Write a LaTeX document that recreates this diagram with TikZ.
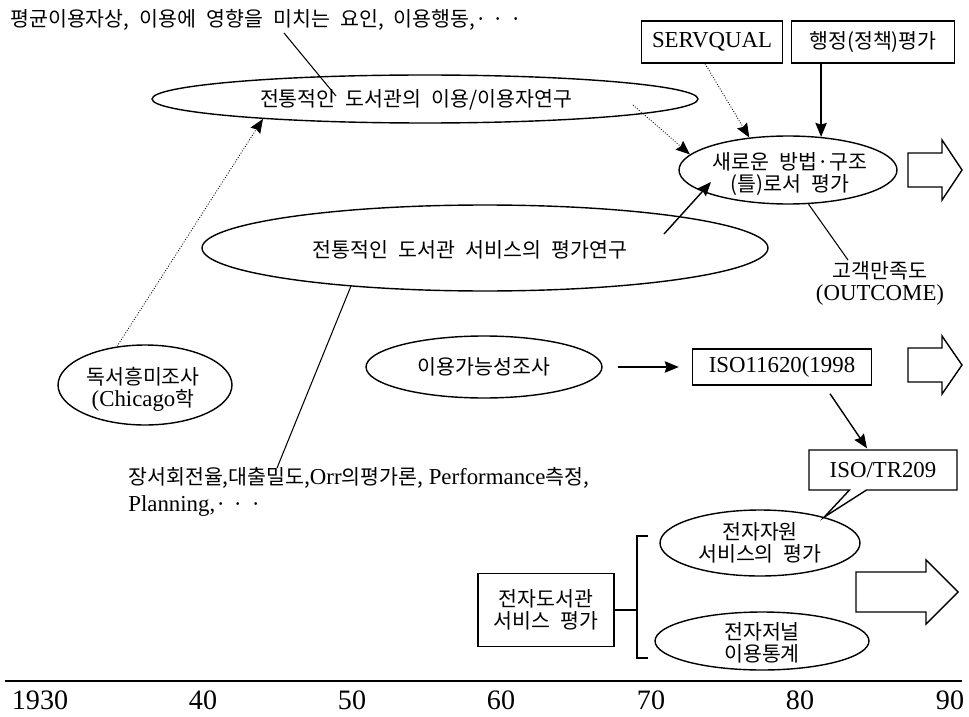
\documentclass[tikz,border=0pt]{standalone}
\usepackage{fontspec}
\setmainfont{Liberation Serif}
\newfontfamily\krfont[Scale=0.9,WordSpace=2.2]{Noto Sans CJK KR}
\newcommand{\hangul}[1]{{\krfont #1}}
\newcommand{\tdots}{·\hspace{3.5pt}·\hspace{3.5pt}·}
\usepackage{tikz}
\usetikzlibrary{calc,arrows.meta,shapes.geometric,shapes.callouts}

\begin{document}
\begin{tikzpicture}[x=0.02cm, y=-0.02cm,
  lab/.style={font=\fontsize{13pt}{12.5pt}\selectfont, align=center, inner sep=0pt},
  kor/.style={lab, font=\fontsize{13pt}{12.5pt}\selectfont\krfont},
  oval/.style={ellipse, draw, line width=0.8pt, inner sep=0pt},
  box/.style={lab, rectangle, draw, line width=0.8pt},
  arr/.style={line width=0.8pt, -{Stealth[length=8pt,width=6.5pt,inset=1pt]}},
  dotarr/.style={arr, line width=0.5pt, densely dotted},
  fat/.style={draw, line width=0.8pt, fill=white},
  yr/.style={font=\fontsize{16pt}{16pt}\selectfont, inner sep=0pt}]
  \path[use as bounding box, fill=white] (0,0) rectangle (969,716);

  \coordinate (t1) at (284,33);
  \coordinate (t2) at (336,96);
  \coordinate (ua) at (633,105);
  \coordinate (ce) at (664,234);
  \coordinate (ci) at (711,182);
  \coordinate (cb) at (848,260);
  \coordinate (cl) at (277,468);

  \node[kor, anchor=west] (avg) at (10,20)
    {평균이용자상, 이용에 영향을 미치는 요인, 이용행동,\tdots};

  \node[oval, minimum width=10.92cm, minimum height=0.96cm] (usr) at (425,99) {};
  \node[kor] (usrt) at (416,100) {전통적인 도서관의 이용/이용자연구};

  \node[box, minimum width=2.82cm, minimum height=0.84cm] (sq) at (712,42) {SERVQUAL};
  \node[box, kor, minimum width=3.26cm, minimum height=0.84cm] (adm) at (873,42) {행정(정책)평가};

  \node[oval, minimum width=4.36cm, minimum height=1.36cm] (neu) at (788,170) {};
  \node[kor] (neut) at (790,174) {새로운 방법·구조\\(틀)로서 평가};

  \node[oval, minimum width=11.32cm, minimum height=1.72cm] (svc) at (485,248) {};
  \node[kor] (svct) at (470,250) {전통적인 도서관 서비스의 평가연구};

  \node[kor] (cust) at (880,283) {고객만족도\\\textrm{(OUTCOME)}};

  \node[oval, minimum width=3.48cm, minimum height=1.6cm] (read) at (145,385) {};
  \node[lab] (readt) at (143,389) {\hangul{독서흥미조사}\\(Chicago\hangul{학}};

  \node[oval, minimum width=4.72cm, minimum height=1.24cm] (avail) at (484,367) {};
  \node[kor] (availt) at (484,367) {이용가능성조사};

  \node[box, minimum width=3.58cm, minimum height=0.72cm] (iso) at (782,367) {ISO11620(1998};

  \node[lab, anchor=north west, align=left, font=\fontsize{13pt}{15.3pt}\selectfont] (cir) at (128,467)
    {\hangul{장서회전율,대출밀도,}Orr\hangul{의평가론,} Performance\hangul{측정,}\\Planning,\hangul{\tdots}};

  \node[oval, minimum width=4cm, minimum height=1.32cm] (eres) at (760,543) {};
  \node[kor] (erest) at (760,543) {전자자원\\서비스의 평가};
  \node[oval, minimum width=4.28cm, minimum height=1.16cm] (ejou) at (762,641) {};
  \node[kor] (ejout) at (762,643) {전자저널\\이용통계};
  \node[box, kor, minimum width=2.72cm, minimum height=1.46cm] (elib) at (546,610) {전자도서관\\서비스 평가};
  \node[box, rectangle callout, callout absolute pointer={(eres.22)},
    callout pointer width=0.34cm, minimum width=2.96cm, minimum height=0.8cm] (tr) at (883,470) {ISO/TR209};

  \draw[line width=0.6pt] (t1) -- (t2);
  \draw[dotarr] (read.126) -- (usr.187);
  \draw[dotarr] (ua) -- (neu.171);
  \draw[dotarr] ($(sq.south)+(-7,0)$) -- (neu.140);
  \draw[arr] (neu.45 |- adm.south) -- (neu.45);
  \draw[arr] (ce) -- (ci);
  \draw[line width=0.6pt] (neu.301) -- (cb);
  \draw[line width=0.6pt] (svc.196) -- (cl);
  \draw[arr, shorten <=0.3cm, shorten >=0.26cm] (avail.east) -- (iso.west);
  \draw[arr] ($(iso.south)+(48,8)$) -- ($(tr.north)+(-16,-1)$);

  \draw[line width=0.6pt] (elib.east) -- ++(23,0);
  \draw[line width=0.6pt] (648,536) -| (637,658) -- (648,658);

  \foreach \bx/\by/\bl/\bh/\sh/\hh in {908/170/54/20/17/30, 908/365/54/20/17/29, 856/592/102/32/20/32}
    \draw[fat] (\bx,\by-\sh) -- (\bx+\bl-\bh,\by-\sh) -- (\bx+\bl-\bh,\by-\hh) -- (\bx+\bl,\by)
      -- (\bx+\bl-\bh,\by+\hh) -- (\bx+\bl-\bh,\by+\sh) -- (\bx,\by+\sh) -- cycle;

  \draw[line width=0.9pt] (5,681) -- (962,681);
  \foreach \t/\x in {1930/40, 40/203, 50/352, 60/501, 70/651, 80/800, 90/950}
    \node[yr] (y\t) at (\x,700) {\t};
\end{tikzpicture}
\end{document}
